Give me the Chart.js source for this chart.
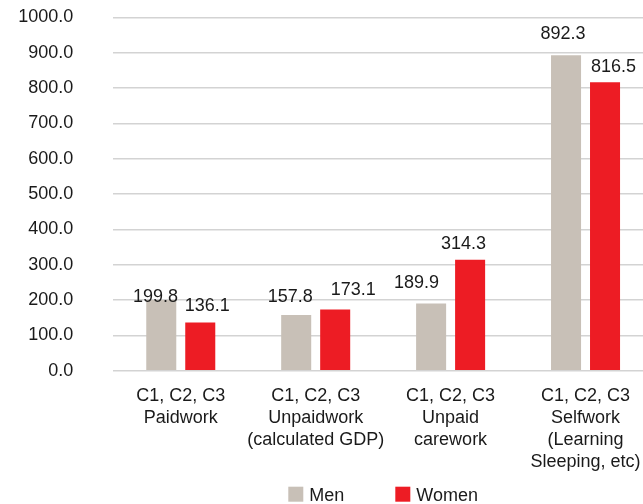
<!DOCTYPE html>
<html>
<head>
<meta charset="utf-8">
<script src="https://cdn.jsdelivr.net/npm/chart.js@4/dist/chart.umd.min.js"></script>
<style>
  html, body { margin: 0; padding: 0; overflow: hidden; background: #ffffff; }
  #wrap { position: relative; width: 766px; height: 504px; }
</style>
</head>
<body>
<div id="wrap"><canvas id="chart"></canvas></div>
<script>
// Time use by activity group (C1, C2, C3), men vs women
const categories = [
  ["C1, C2, C3", "Paidwork"],
  ["C1, C2, C3", "Unpaidwork", "(calculated GDP)"],
  ["C1, C2, C3", "Unpaid", "carework"],
  ["C1, C2, C3", "Selfwork", "(Learning", "Sleeping, etc)"]
];
const seriesNames = ["Men", "Women"];
const menValues = [199.8, 157.8, 189.9, 892.3];
const womenValues = [136.1, 173.1, 314.3, 816.5];
const yMin = 0, yMax = 1000, yStep = 100;

const FONT = '"Liberation Sans", Arial, Helvetica, sans-serif';
const TEXT = '#1a1a1a';
const MEN_COLOR = '#c8c0b7';
const WOMEN_COLOR = '#ed1c24';

// Value labels above each bar, with small per-label nudges so they don't collide
const valueLabels = {
  id: 'valueLabels',
  afterDatasetsDraw(chart, args, opts) {
    const ctx = chart.ctx;
    ctx.save();
    ctx.font = '18px ' + FONT;
    ctx.fillStyle = TEXT;
    ctx.textAlign = 'center';
    ctx.textBaseline = 'alphabetic';
    chart.data.datasets.forEach((ds, i) => {
      const meta = chart.getDatasetMeta(i);
      meta.data.forEach((bar, j) => {
        const v = ds.data[j];
        ctx.fillText(v.toFixed(1), bar.x + opts.shiftX[i][j], bar.y - opts.lift[i][j]);
      });
    });
    ctx.restore();
  }
};

// Legend row under the category labels, centred on the plot area
const bottomLegend = {
  id: 'bottomLegend',
  afterDraw(chart, args, opts) {
    const ctx = chart.ctx;
    const area = chart.chartArea;
    ctx.save();
    ctx.font = '18px ' + FONT;
    const box = 15, gap = 6, itemGap = 51;
    const items = chart.data.datasets.map(ds => ({
      text: ds.label, color: ds.backgroundColor, w: ctx.measureText(ds.label).width
    }));
    const total = items.reduce((s, it) => s + box + gap + it.w, 0) + itemGap * (items.length - 1);
    let x = (area.left + area.right) / 2 - total / 2;
    items.forEach(it => {
      ctx.fillStyle = it.color;
      ctx.fillRect(x, opts.boxTop, box, box);
      ctx.fillStyle = TEXT;
      ctx.textAlign = 'left';
      ctx.textBaseline = 'alphabetic';
      ctx.fillText(it.text, x + box + gap, opts.baseline);
      x += box + gap + it.w + itemGap;
    });
    ctx.restore();
  }
};

new Chart(document.getElementById('chart'), {
  type: 'bar',
  data: {
    labels: categories,
    datasets: [
      { label: seriesNames[0], data: menValues, backgroundColor: MEN_COLOR },
      { label: seriesNames[1], data: womenValues, backgroundColor: WOMEN_COLOR }
    ]
  },
  options: {
    responsive: true,
    maintainAspectRatio: false,
    animation: false,
    devicePixelRatio: 1,
    categoryPercentage: 0.578,
    barPercentage: 0.77,
    layout: { padding: { top: 17.3, right: 113, bottom: 33, left: 0 } },
    scales: {
      x: {
        afterFit(scale) { scale.height = 100.3; },
        grid: { display: false, drawTicks: false },
        border: { display: false },
        ticks: {
          color: TEXT,
          font: { family: FONT, size: 18, lineHeight: 1.22 },
          padding: 14,
          maxRotation: 0,
          autoSkip: false
        }
      },
      y: {
        min: yMin,
        max: yMax,
        afterFit(scale) {
          scale.width = 113.3;
          scale.paddingTop = 11;
          scale.paddingBottom = 11;
        },
        grid: { color: '#d3d3d3', lineWidth: 1.5, drawTicks: false },
        border: { display: false },
        ticks: {
          stepSize: yStep,
          color: TEXT,
          font: { family: FONT, size: 18 },
          padding: 40,
          callback: v => Number(v).toFixed(1)
        }
      }
    },
    plugins: {
      legend: { display: false },
      tooltip: { enabled: false },
      valueLabels: {
        shiftX: [[-5.7, -6, -14.7, -3], [7, 18, -6.5, 8.5]],
        lift: [[-1.8, 13, 15.4, 16.5], [11.2, 14.4, 11.1, 10]]
      },
      bottomLegend: { boxTop: 486.7, baseline: 501 }
    }
  },
  plugins: [valueLabels, bottomLegend]
});
</script>
</body>
</html>
